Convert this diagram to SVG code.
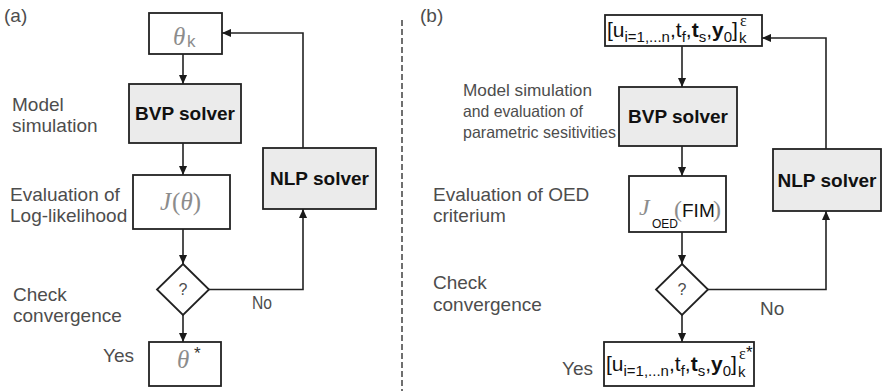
<svg xmlns="http://www.w3.org/2000/svg" width="882" height="391" viewBox="0 0 882 391">
<style>
.lbl{font-family:"Liberation Sans",Arial,sans-serif;font-size:19px;fill:#4d4d4d}
.lblb{font-family:"Liberation Sans",Arial,sans-serif;font-size:16.5px;fill:#4d4d4d}
.box{fill:#fff;stroke:#222;stroke-width:1.8}
.gbox{fill:#ebebeb;stroke:#222;stroke-width:1.8}
.bold{font-family:"Liberation Sans",Arial,sans-serif;font-size:19px;font-weight:bold;fill:#111;text-anchor:middle}
.math{font-family:"Liberation Serif","Times New Roman",serif;font-style:italic;fill:#8c8c8c}
.sans{font-family:"Liberation Sans",Arial,sans-serif}
.conn{fill:none;stroke:#222;stroke-width:1.6}
</style>
<defs>
<marker id="ah" viewBox="0 0 10 10" refX="10" refY="5" markerWidth="10" markerHeight="9" orient="auto" markerUnits="userSpaceOnUse">
<path d="M0,0.5 L10,5 L0,9.5 Z" fill="#1a1a1a"/>
</marker>
</defs>

<text class="lbl" x="4" y="22">(a)</text>
<text class="lbl" x="420" y="22">(b)</text>

<line x1="402" y1="20" x2="402" y2="391" stroke="#333" stroke-width="1.4" stroke-dasharray="6,3"/>

<g id="a-labels">
<text class="lbl" x="12" y="111">Model</text>
<text class="lbl" x="12" y="132">simulation</text>
<text class="lbl" x="10" y="201">Evaluation of</text>
<text class="lbl" x="10" y="222">Log-likelihood</text>
<text class="lbl" x="13" y="301">Check</text>
<text class="lbl" x="13" y="322">convergence</text>
<text class="lbl" x="103" y="362">Yes</text>
<text class="lbl" x="252" y="309" font-size="17" textLength="20" lengthAdjust="spacingAndGlyphs">No</text>
</g>

<g id="a-theta-k">
<rect class="box" x="149" y="13" width="73" height="41"/>
<text class="math" x="173" y="45" font-size="25">θ</text>
<text class="sans" x="187" y="47" font-size="17" fill="#8c8c8c">k</text>
</g>
<g id="a-bvp">
<rect class="gbox" x="129" y="84" width="112" height="59"/>
<text class="bold" x="185" y="120">BVP solver</text>
</g>
<g id="a-j">
<rect class="box" x="133" y="175" width="97" height="54"/>
<text class="math" x="160" y="210" font-size="25">J<tspan font-style="normal" dx="1">(</tspan>θ<tspan font-style="normal">)</tspan></text>
</g>
<g id="a-diamond">
<polygon class="box" points="183,264 209,289.5 183,315 157,289.5"/>
<text class="sans" x="183" y="295" font-size="16" fill="#4d4d4d" text-anchor="middle">?</text>
</g>
<g id="a-theta-star">
<rect class="box" x="149" y="342" width="72" height="44"/>
<text class="math" x="177" y="368" font-size="25">θ</text>
<text class="sans" x="194" y="359" font-size="17" fill="#333">*</text>
</g>
<g id="a-nlp">
<rect class="gbox" x="263" y="148" width="113" height="61"/>
<text class="bold" x="319.5" y="185">NLP solver</text>
</g>

<g id="a-connectors">
<line class="conn" x1="183" y1="54" x2="183" y2="84" marker-end="url(#ah)"/>
<line class="conn" x1="183" y1="143" x2="183" y2="175" marker-end="url(#ah)"/>
<line class="conn" x1="183" y1="229" x2="183" y2="264" marker-end="url(#ah)"/>
<line class="conn" x1="183" y1="315" x2="183" y2="342" marker-end="url(#ah)"/>
<polyline class="conn" points="209,289.5 303,289.5 303,209" marker-end="url(#ah)"/>
<polyline class="conn" points="303,148 303,33 222,33" marker-end="url(#ah)"/>
</g>

<g id="b-labels">
<text class="lblb" x="463" y="96" textLength="129" lengthAdjust="spacingAndGlyphs">Model simulation</text>
<text class="lblb" x="463" y="117" textLength="120" lengthAdjust="spacingAndGlyphs">and evaluation of</text>
<text class="lblb" x="463" y="138" textLength="153" lengthAdjust="spacingAndGlyphs">parametric sesitivities</text>
<text class="lbl" x="433" y="201">Evaluation of OED</text>
<text class="lbl" x="433" y="222">criterium</text>
<text class="lbl" x="433" y="289">Check</text>
<text class="lbl" x="433" y="311">convergence</text>
<text class="lbl" x="562" y="375">Yes</text>
<text class="lbl" x="760" y="315">No</text>
</g>

<g id="b-top">
<rect class="box" x="605" y="15" width="157" height="31"/>
<text class="sans" x="607" y="37" font-size="21" fill="#111">[u<tspan font-size="15" dy="5">i=1,...n</tspan><tspan dy="-5">,t</tspan><tspan font-size="15" dy="5">f</tspan><tspan dy="-5">,</tspan><tspan font-weight="bold">t</tspan><tspan font-size="15" dy="5">s</tspan><tspan dy="-5">,</tspan><tspan font-weight="bold">y</tspan><tspan font-size="15" dy="5">0</tspan><tspan dy="-5">]</tspan></text>
<text class="sans" x="739" y="43" font-size="15" fill="#111">k</text>
<text x="740" y="26" font-size="16" fill="#111" font-family="Liberation Serif,serif">ε</text>
</g>
<g id="b-bvp">
<rect class="gbox" x="619" y="87" width="118" height="59"/>
<text class="bold" x="678" y="123">BVP solver</text>
</g>
<g id="b-j">
<rect class="box" x="629" y="176" width="97" height="56"/>
<text class="math" x="639" y="215" font-size="24">J</text>
<text class="sans" x="652" y="228" font-size="12" fill="#111">OED</text>
<text x="674" y="217" font-size="24" fill="#8c8c8c" font-family="Liberation Serif,serif">(</text>
<text class="sans" x="682" y="217" font-size="19" fill="#111">FIM</text>
<text x="713" y="217" font-size="24" fill="#8c8c8c" font-family="Liberation Serif,serif">)</text>
</g>
<g id="b-diamond">
<polygon class="box" points="682,264 708,289.5 682,315 656,289.5"/>
<text class="sans" x="682" y="295" font-size="16" fill="#4d4d4d" text-anchor="middle">?</text>
</g>
<g id="b-bottom">
<rect class="box" x="604" y="342" width="150" height="44"/>
<text class="sans" x="606" y="371" font-size="21" fill="#111">[u<tspan font-size="15" dy="5">i=1,...n</tspan><tspan dy="-5">,t</tspan><tspan font-size="15" dy="5">f</tspan><tspan dy="-5">,</tspan><tspan font-weight="bold">t</tspan><tspan font-size="15" dy="5">s</tspan><tspan dy="-5">,</tspan><tspan font-weight="bold">y</tspan><tspan font-size="15" dy="5">0</tspan><tspan dy="-5">]</tspan></text>
<text class="sans" x="738" y="377" font-size="15" fill="#111">k</text>
<text x="739" y="359" font-size="16" fill="#111" font-family="Liberation Serif,serif">ε</text>
<text class="sans" x="746" y="358" font-size="17" fill="#111">*</text>
</g>
<g id="b-nlp">
<rect class="gbox" x="773" y="149" width="108" height="62"/>
<text class="bold" x="827" y="187">NLP solver</text>
</g>

<g id="b-connectors">
<line class="conn" x1="682" y1="46" x2="682" y2="87" marker-end="url(#ah)"/>
<line class="conn" x1="682" y1="146" x2="682" y2="176" marker-end="url(#ah)"/>
<line class="conn" x1="682" y1="232" x2="682" y2="264" marker-end="url(#ah)"/>
<line class="conn" x1="682" y1="315" x2="682" y2="342" marker-end="url(#ah)"/>
<polyline class="conn" points="708,289.5 826,289.5 826,211" marker-end="url(#ah)"/>
<polyline class="conn" points="826,149 826,38 762,38" marker-end="url(#ah)"/>
</g>
</svg>
